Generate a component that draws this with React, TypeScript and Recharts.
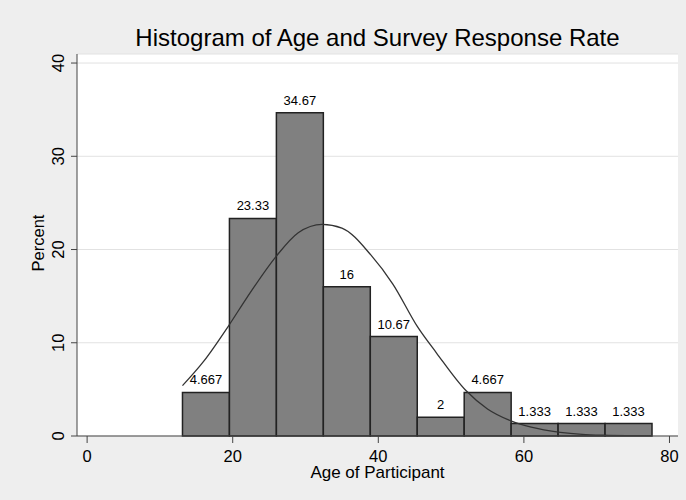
import React from 'react';
import { ComposedChart, Line, XAxis, YAxis, CartesianGrid, ReferenceArea } from 'recharts';

const binEdges = [13.1, 19.55, 26, 32.45, 38.9, 45.35, 51.8, 58.25, 64.7, 71.15, 77.6];
const percents = [4.667, 23.33, 34.67, 16, 10.67, 2, 4.667, 1.333, 1.333, 1.333];
const curveX = [13.1, 16, 19.5, 22, 26, 29, 32.3, 35, 39, 42, 45.4, 48, 52, 55, 58.3, 61, 65, 68, 71, 74, 77.6];
const curveY = [5.4, 8.0, 11.9, 14.9, 19.3, 21.8, 22.7, 22.3, 19.4, 16.3, 11.7, 8.9, 4.9, 2.9, 1.6, 0.95, 0.4, 0.18, 0.08, 0.03, 0.01];
const xTicks = [0, 20, 40, 60, 80];
const yTicks = [0, 10, 20, 30, 40];
const title = 'Histogram of Age and Survey Response Rate';
const xTitle = 'Age of Participant';
const yTitle = 'Percent';

const curveData = curveX.map((x, i) => ({ x, y: curveY[i] }));
const bins = percents.map((p, i) => ({ x1: binEdges[i], x2: binEdges[i + 1], p }));

const FONT = '"Liberation Sans", Arial, Helvetica, sans-serif';

function YTick(props: any) {
  const { x, y, payload } = props;
  return (
    <text x={x} y={y} transform={`rotate(-90, ${x}, ${y})`} textAnchor="middle" fontSize={16.5} fill="#000" fontFamily={FONT}>
      {payload.value}
    </text>
  );
}

function XTitle(props: any) {
  const vb = props.viewBox || { x: 77, y: 436, width: 601, height: 40 };
  return (
    <text x={vb.x + vb.width / 2} y={vb.y + 42} textAnchor="middle" fontSize={17} fill="#000" fontFamily={FONT}>
      {xTitle}
    </text>
  );
}

function YTitle() {
  const x = 44;
  const y = 243;
  return (
    <text x={x} y={y} transform={`rotate(-90, ${x}, ${y})`} textAnchor="middle" fontSize={16.5} fill="#000" fontFamily={FONT}>
      {yTitle}
    </text>
  );
}

const fmt = (v: number) => String(Number(v.toPrecision(4)));

export default function App() {
  return (
    <div style={{ position: 'absolute', left: 0, top: 0, width: 686, height: 500, background: '#EEEEEE', fontFamily: FONT }}>
      <div
        style={{
          position: 'absolute',
          left: 77,
          width: 601,
          top: 25.5,
          fontSize: 24,
          lineHeight: '24px',
          textAlign: 'center',
          color: '#000',
          fontFamily: FONT,
          whiteSpace: 'nowrap',
        }}
      >
        {title}
      </div>
      <ComposedChart
        width={686}
        height={500}
        data={curveData}
        margin={{ top: 54, right: 8, bottom: 24, left: 17 }}
      >
        <CartesianGrid fill="#FFFFFF" vertical={false} stroke="#E2E2E2" strokeWidth={1} />
        <XAxis
          dataKey="x"
          type="number"
          domain={[-1.39, 81.17]}
          allowDataOverflow
          ticks={xTicks}
          interval={0}
          height={40}
          tickSize={7}
          tickMargin={7}
          axisLine={{ stroke: '#444' }}
          tickLine={{ stroke: '#444' }}
          tick={{ fill: '#000', fontSize: 16.5, fontFamily: FONT }}
          label={<XTitle />}
        />
        <YAxis
          type="number"
          domain={[0, 40.97]}
          allowDataOverflow
          ticks={yTicks}
          interval={0}
          width={60}
          tickSize={6}
          tickMargin={7}
          axisLine={{ stroke: '#444' }}
          tickLine={{ stroke: '#444' }}
          tick={<YTick />}
          label={<YTitle />}
        />
        {bins.map((b, i) => (
          <ReferenceArea
            key={i}
            x1={b.x1}
            x2={b.x2}
            y1={0}
            y2={b.p}
            fill="#808080"
            fillOpacity={1}
            stroke="#222"
            strokeWidth={1.5}
            label={{ value: fmt(b.p), position: 'top', offset: 8, fontSize: 13, fill: '#000', fontFamily: FONT }}
          />
        ))}
        <Line
          dataKey="y"
          type="monotone"
          stroke="#333"
          strokeWidth={1.3}
          dot={false}
          activeDot={false}
          isAnimationActive={false}
        />
      </ComposedChart>
    </div>
  );
}
